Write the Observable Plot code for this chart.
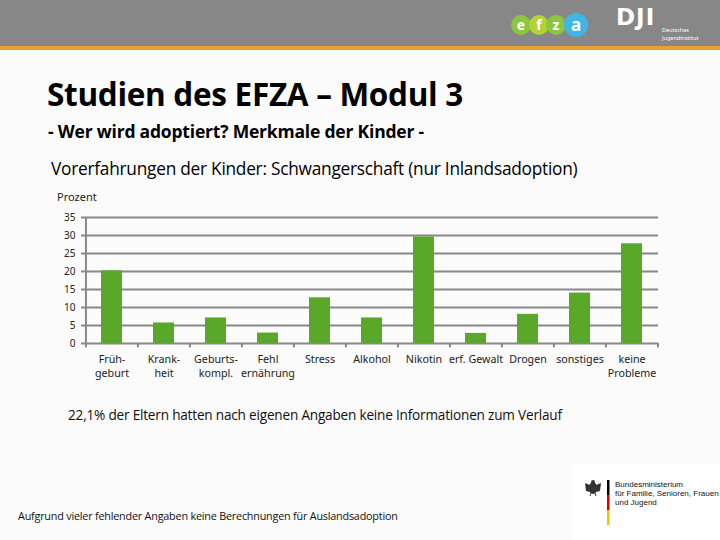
<!DOCTYPE html>
<html>
<head>
<meta charset="utf-8">
<script src="https://cdn.jsdelivr.net/npm/d3@7"></script>
<script src="https://cdn.jsdelivr.net/npm/@observablehq/plot@0.6"></script>
<style>
  html, body { margin: 0; padding: 0; }
  body { width: 720px; height: 540px; background: #fbfbfb; position: relative; overflow: hidden; font-family: "Open Sans", "Noto Sans", sans-serif; }
  .abs { position: absolute; white-space: nowrap; }
  #header { left: 0; top: 0; width: 720px; height: 46px; background: #878787; }
  #orange { left: 0; top: 46px; width: 720px; height: 4px; background: #eba12f; }
  .circ { position: absolute; border-radius: 50%; color: #fff; font-family: "Noto Sans", sans-serif; font-weight: bold; text-align: center; }
  #title { left: 47px; top: 72px; font: bold 31.5px "Open Sans", sans-serif; color: #000; letter-spacing: -0.3px; }
  #subtitle { left: 48px; top: 119px; font: bold 17.5px "Open Sans", sans-serif; color: #000; letter-spacing: -0.2px; }
  #heading { left: 51px; top: 157px; font: 17.3px "Open Sans", sans-serif; color: #000; letter-spacing: -0.25px; }
  #prozent { left: 57px; top: 189px; font: 11px "Noto Sans", sans-serif; color: #222; }
  #note { left: 68px; top: 405px; font: 13.6px "Open Sans", sans-serif; color: #111; letter-spacing: -0.2px; }
  #foot { left: 18px; top: 508px; font: 10.8px "Open Sans", sans-serif; color: #111; letter-spacing: -0.2px; }
  #bmbox { left: 572px; top: 463px; width: 148px; height: 77px; background: #fff; }
  #chart { left: 0; top: 200px; }
</style>
</head>
<body>
<div id="header" class="abs"></div>
<div id="orange" class="abs"></div>
<div class="circ" style="left:511px;top:15px;width:20px;height:20px;line-height:19px;font-size:14px;background:#8cc63e;">e</div>
<div class="circ" style="left:529px;top:15px;width:20px;height:20px;line-height:19px;font-size:14px;background:#b2d235;">f</div>
<div class="circ" style="left:546px;top:15px;width:20px;height:20px;line-height:19px;font-size:14px;background:#8cc63e;">z</div>
<div class="circ" style="left:564px;top:13px;width:24px;height:24px;line-height:23px;font-size:17px;background:#41b6e6;">a</div>
<div class="abs" style="left:616px;top:4px;font:bold 23px 'DejaVu Sans',sans-serif;color:#fff;letter-spacing:1px;">DJI</div>
<div class="abs" style="left:662px;top:26px;font:5.5px 'Noto Sans',sans-serif;color:#fff;line-height:8px;">Deutsches<br>Jugendinstitut</div>

<div id="title" class="abs">Studien des EFZA – Modul 3</div>
<div id="subtitle" class="abs">- Wer wird adoptiert? Merkmale der Kinder -</div>
<div id="heading" class="abs">Vorerfahrungen der Kinder: Schwangerschaft (nur Inlandsadoption)</div>
<div id="prozent" class="abs">Prozent</div>
<div id="chart" class="abs"></div>
<div id="note" class="abs">22,1% der Eltern hatten nach eigenen Angaben keine Informationen zum Verlauf</div>
<div id="foot" class="abs">Aufgrund vieler fehlender Angaben keine Berechnungen für Auslandsadoption</div>

<div id="bmbox" class="abs">
  <svg width="148" height="77" style="position:absolute;left:0;top:0">
    <g transform="translate(21,25)" fill="#333">
      <ellipse cx="0" cy="0" rx="4" ry="6"/>
      <circle cx="0" cy="-6" r="2"/>
      <path d="M-8,-5 L-3,-3 L-3,4 L-7,3 Z M8,-5 L3,-3 L3,4 L7,3 Z"/>
      <path d="M-2,5 L-3,8 M2,5 L3,8" stroke="#333" stroke-width="1"/>
    </g>
    <rect x="35" y="17" width="2.5" height="15" fill="#000"/>
    <rect x="35" y="32" width="2.5" height="15" fill="#d00"/>
    <rect x="35" y="47" width="2.5" height="15" fill="#f2c200"/>
    <text x="43" y="24" font-family="Liberation Sans Narrow, Liberation Sans" font-size="8" fill="#111">Bundesministerium</text>
    <text x="43" y="33" font-family="Liberation Sans Narrow, Liberation Sans" font-size="8" fill="#111">für Familie, Senioren, Frauen</text>
    <text x="43" y="42" font-family="Liberation Sans Narrow, Liberation Sans" font-size="8" fill="#111">und Jugend</text>
  </svg>
</div>

<script>
const categories = ["Früh-\ngeburt", "Krank-\nheit", "Geburts-\nkompl.", "Fehl\nernährung", "Stress", "Alkohol", "Nikotin", "erf. Gewalt", "Drogen", "sonstiges", "keine\nProbleme"];
const values = [20.2, 5.7, 7.1, 2.9, 12.7, 7.1, 29.6, 2.8, 8.1, 14.0, 27.7];
const yTicks = [0, 5, 10, 15, 20, 25, 30, 35];

const data = categories.map((c, i) => ({category: c, value: values[i]}));
const W = 720, mL = 85, mR = 62;
const step = (W - mL - mR) / categories.length;
const gridColor = "#888888";

const chart = Plot.plot({
  width: W,
  height: 185,
  marginLeft: mL,
  marginRight: mR,
  marginTop: 17,
  marginBottom: 42,
  style: {background: "transparent", fontFamily: "'Noto Sans', sans-serif", color: "#222"},
  x: {domain: categories, paddingInner: 0.6, paddingOuter: 0.3, label: null},
  y: {domain: [0, 35], ticks: yTicks, label: null},
  marks: [
    Plot.ruleY(yTicks, {stroke: gridColor, strokeWidth: 2}),
    Plot.ruleX([categories[0]], {x: d => d, dx: -step / 2, y1: 0, y2: 35, stroke: gridColor, strokeWidth: 2}),
    Plot.ruleX(categories, {x: d => d, dx: -step / 2, y1: 0, y2: -1.2, stroke: gridColor, strokeWidth: 2}),
    Plot.ruleX([categories[categories.length - 1]], {x: d => d, dx: step / 2, y1: 0, y2: -1.2, stroke: gridColor, strokeWidth: 2}),
    Plot.barY(data, {x: "category", y: "value", fill: "#5aa829"}),
    Plot.axisY({ticks: yTicks, tickSize: 4, tickPadding: 6, stroke: gridColor, strokeWidth: 2, fontSize: 10, anchor: "left"}),
    Plot.axisX({tickSize: 0, tickPadding: 9, fontSize: 10.7, lineHeight: 1.35})
  ]
});
document.getElementById("chart").appendChild(chart);
</script>
</body>
</html>
